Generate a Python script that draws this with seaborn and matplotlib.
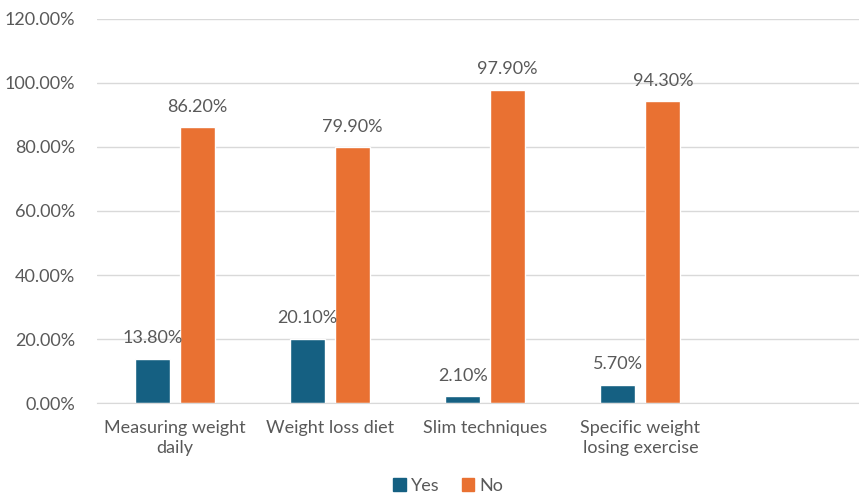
import matplotlib
matplotlib.use("Agg")
import matplotlib.pyplot as plt
import seaborn as sns
import pandas as pd

# data
categories = ["Measuring weight\ndaily", "Weight loss diet", "Slim techniques",
              "Specific weight\nlosing exercise", ""]
yes_vals = [13.8, 20.1, 2.1, 5.7]
no_vals = [86.2, 79.9, 97.9, 94.3]
series = ["Yes", "No"]
colors = ["#156082", "#E97132"]

df = pd.DataFrame({
    "category": categories[:4] * 2,
    "answer": ["Yes"] * 4 + ["No"] * 4,
    "value": yes_vals + no_vals,
})

sns.set_style("white")
plt.rcParams["font.family"] = ["Lato", "DejaVu Sans"]
text_col = "#595959"
fs = 13

fig = plt.figure(figsize=(8.59, 4.97), dpi=100)
ax = fig.add_axes([0.1135, 0.189, 0.8865, 0.773])

sns.barplot(data=df, x="category", y="value", hue="answer", order=categories,
            hue_order=series, palette=colors, width=0.58, gap=0.22,
            saturation=1, ax=ax, legend=True)

for cont in ax.containers:
    ax.bar_label(cont, labels=[f"{v:.2f}%" for v in cont.datavalues],
                 padding=9, fontsize=fs, color=text_col)

ax.set_ylim(0, 120)
ax.set_xlim(-0.5, 4.41)
ax.set_yticks(range(0, 121, 20))
ax.set_yticklabels([f"{t:.2f}%" for t in range(0, 121, 20)])
ax.tick_params(axis="both", length=0, labelsize=fs, colors=text_col)
ax.tick_params(axis="y", pad=16)
ax.tick_params(axis="x", pad=12)
for lbl in ax.get_xticklabels():
    lbl.set_linespacing(1.35)
ax.yaxis.grid(True, color="#D9D9D9", linewidth=1)
ax.set_axisbelow(True)
for s in ["top", "right", "left"]:
    ax.spines[s].set_visible(False)
ax.spines["bottom"].set_color("#D9D9D9")
ax.set_xlabel("")
ax.set_ylabel("")

ax.legend_.remove()
handles = [plt.Rectangle((0, 0), 1, 1, color=c) for c in colors]
fig.legend(handles, series, loc="center", bbox_to_anchor=(0.522, 0.022),
           ncol=2, frameon=False, fontsize=fs, labelcolor=text_col,
           handlelength=0.7, handleheight=0.7, handletextpad=0.3,
           columnspacing=1.2)

fig.savefig("out.png", dpi=100)
